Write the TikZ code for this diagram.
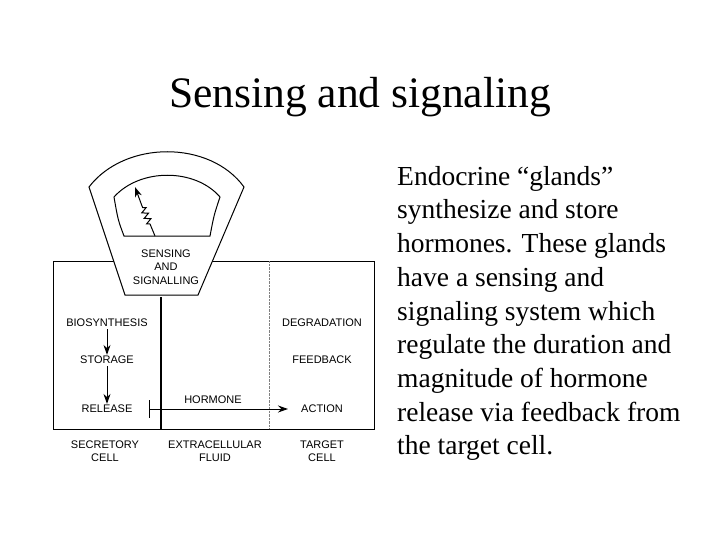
\documentclass[tikz,border=0pt]{standalone}
\usepackage{fontspec}
\setmainfont{Liberation Serif}
\newfontfamily\lab{Liberation Sans}
\usetikzlibrary{arrows.meta,decorations.pathmorphing}
\begin{document}
\begin{tikzpicture}[x=1pt,y=-1pt,
 lbl/.style={font=\lab\fontsize{11}{13.5}\selectfont,align=center,inner sep=0pt},
 ln/.style={line width=1pt},
 arr/.style={ln,-{Stealth[length=10pt,width=7pt]}}]
\useasboundingbox (0,0) rectangle (720,540);
\node[font=\fontsize{43.5}{48}\selectfont] (title) at (360,97) {Sensing and signaling};
\node[anchor=north west,align=left,inner sep=0pt,font=\fontsize{27.5}{33.7}\selectfont] (body) at (397,166)
 {Endocrine “glands”\\synthesize and store\\hormones. These glands\\have a sensing and\\signaling system which\\regulate the duration and\\magnitude of hormone\\release via feedback from\\the target cell.};
% cells
\draw[ln] (53,261) rectangle (374,429);
\draw[line width=1.6pt] (161,297) -- (161,429);
\draw[densely dotted,gray] (269,261) -- (269,429);
% gauge
\draw[ln,fill=white] (125,295) -- (89,187) .. controls (125,140) and (210,140) .. (244,187) -- (198,295) -- cycle;
\draw[ln] (124,236) .. controls (118,220) .. (114,197) .. controls (140,168) and (195,168) .. (220,197) .. controls (214,215) .. (210,236) -- cycle;
\coordinate (nb) at (155,236); \coordinate (nt) at (135,187);
\draw[ln] (nb) -- (150,224);
\draw[ln,decorate,decoration={zigzag,segment length=6pt,amplitude=3pt}] (150,224) -- (142,206);
\draw[arr] (142,206) -- (nt);
\node[lbl] (sens) at (166,267) {SENSING\\AND\\SIGNALLING};
% labels
\node[lbl] (bio) at (107,323) {BIOSYNTHESIS};
\node[lbl] (sto) at (107,360) {STORAGE};
\node[lbl] (rel) at (107,409) {RELEASE};
\node[lbl] (deg) at (322,323) {DEGRADATION};
\node[lbl] (fee) at (322,360) {FEEDBACK};
\node[lbl] (act) at (322,409) {ACTION};
\node[lbl] (hor) at (213,400) {HORMONE};
\draw[arr,shorten <=2pt,shorten >=1pt] (bio) -- (sto);
\draw[arr,shorten <=2pt,shorten >=1pt] (sto) -- (rel);
\coordinate (rs) at (149,409);
\draw[ln] (149,400) -- (149,418);
\draw[arr] (rs) -- (288,409);
\node[lbl] (sc) at (105,451) {SECRETORY\\CELL};
\node[lbl] (ef) at (215,451) {EXTRACELLULAR\\FLUID};
\node[lbl] (tc) at (322,451) {TARGET\\CELL};
\end{tikzpicture}
\end{document}
